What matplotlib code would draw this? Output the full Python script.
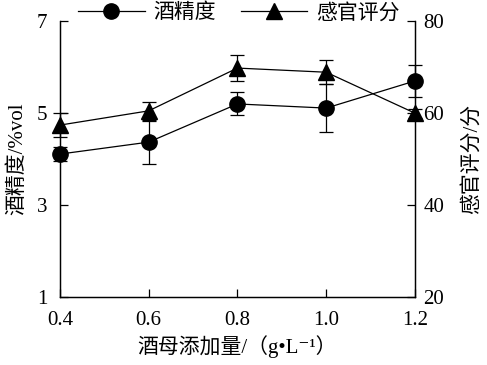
import matplotlib
matplotlib.use('Agg')
import matplotlib.pyplot as plt
from matplotlib.lines import Line2D

plt.rcParams['font.family'] = ['Liberation Serif', 'Noto Sans CJK SC', 'DejaVu Sans']

# Data
yeast = [0.4, 0.6, 0.8, 1.0, 1.2]
alcohol = [4.11, 4.37, 5.2, 5.11, 5.7]
alcohol_err = [0.16, 0.47, 0.25, 0.52, 0.35]
sensory = [57.4, 60.5, 69.8, 68.9, 60.0]
sensory_err = [2.6, 1.9, 2.8, 2.6, 1.0]

fig = plt.figure(figsize=(4.87, 3.65), dpi=100)
ax = fig.add_axes([0.123, 0.186, 0.729, 0.756])
ax2 = ax.twinx()

l1 = ax.errorbar(yeast, alcohol, yerr=alcohol_err, color='black', lw=0.9,
                 marker='o', ms=11, capsize=5, elinewidth=0.9, capthick=0.9)
l2 = ax2.errorbar(yeast, sensory, yerr=sensory_err, color='black', lw=0.9,
                  marker='^', ms=12, capsize=5, elinewidth=0.9, capthick=0.9)
for eb in (l1, l2):
    eb.lines[0].set_clip_on(False)
    for a in eb.lines[1]:
        a.set_clip_on(False)
    for c in eb.lines[2]:
        c.set_clip_on(False)

ax.set_xlim(0.4, 1.2)
ax.set_ylim(1, 7)
ax2.set_ylim(20, 80)
ax.set_xticks(yeast)
ax.set_xticklabels(['0.4', '0.6', '0.8', '1.0', '1.2'])
ax.set_yticks([1, 3, 5, 7])
ax2.set_yticks([20, 40, 60, 80])

for a in (ax, ax2):
    a.spines['top'].set_visible(False)
    for s in a.spines.values():
        s.set_linewidth(0.9)
    a.tick_params(direction='in', length=6, width=0.9, labelsize=15)
ax.tick_params(axis='x', pad=10)
ax.tick_params(axis='y', pad=9)
ax2.tick_params(axis='y', pad=6)

ax.set_xlabel('酒母添加量/（g•L⁻¹）', fontsize=15, labelpad=4)
ax.set_ylabel('酒精度/%vol', fontsize=15, labelpad=7)
ax2.set_ylabel('感官评分/分', fontsize=15, labelpad=13)

handles = [Line2D([], [], color='black', lw=0.9, marker='o', ms=11),
           Line2D([], [], color='black', lw=0.9, marker='^', ms=12)]
fig.legend(handles=handles, labels=['酒精度', '感官评分'], loc='center',
           bbox_to_anchor=(0.49, 0.963), ncol=2, frameon=False, fontsize=15,
           handlelength=3.2, columnspacing=1.2, handletextpad=0.4)

fig.savefig('out.png', dpi=100)
